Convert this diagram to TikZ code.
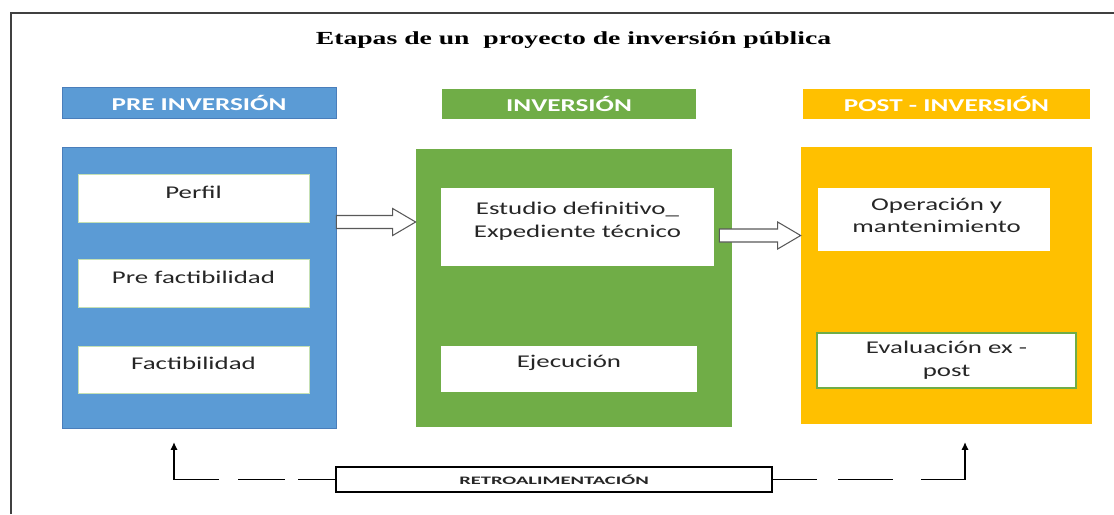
\documentclass[tikz,border=0pt]{standalone}
\usepackage{fontspec}
\usepackage{tikz}
\usetikzlibrary{calc,arrows.meta}
\newfontfamily\lblfont[FakeStretch=1.5]{Carlito}
\newfontfamily\ttlfont[FakeStretch=1.5]{Liberation Serif}
\newfontfamily\retrofont[FakeStretch=1.8]{Carlito}
\definecolor{preblue}{HTML}{5B9BD5}
\definecolor{preedge}{HTML}{4A7EBB}
\definecolor{invgreen}{HTML}{70AD47}
\definecolor{postyellow}{HTML}{FFC000}
\definecolor{cardedge}{HTML}{C5E0B4}
\definecolor{txtgray}{HTML}{262626}
\definecolor{arrgray}{HTML}{595959}
\definecolor{framegray}{HTML}{404040}
\def\blockarrow[#1](#2)(#3){\draw[#1] ($(#2)+(0,-6.5)$) -- ($(#3)+(-23,-6.5)$) -- ($(#3)+(-23,-13.5)$) -- (#3) -- ($(#3)+(-23,13.5)$) -- ($(#3)+(-23,6.5)$) -- ($(#2)+(0,6.5)$) -- cycle;}
\tikzset{
  pxsize/.style 2 args={minimum width=#1*0.02cm, minimum height=#2*0.02cm},
  stagehead/.style={rectangle, inner sep=0pt, text=white, font=\lblfont\bfseries\fontsize{10.3pt}{12pt}\selectfont},
  stagebox/.style={rectangle, inner sep=0pt},
  stepcard/.style={rectangle, fill=white, inner sep=0pt},
  steptext/.style={font=\lblfont\fontsize{10.2pt}{13pt}\selectfont, text=txtgray, align=center},
  barrow/.style={draw=arrgray, fill=white, line width=0.6pt},
  feedline/.style={line width=0.85pt, -{Latex[length=4.5pt,width=4.2pt]}},
  outerframe/.style={draw=framegray, line width=1.1pt}
}
\begin{document}
\begin{tikzpicture}[x=0.02cm,y=-0.02cm]
    \useasboundingbox (0,0) rectangle (1114,514);
    %%%%% FRAME + TITLE %%%%%
    \draw[outerframe] (11,514) -- (11,13) -- (1114,13);
    \node[font=\ttlfont\bfseries\fontsize{10.5pt}{12pt}\selectfont] (title) at (573.5,40) {Etapas de un\ \ proyecto de inversión pública};

    %%%%% HEADERS %%%%%
    \node[stagehead, pxsize={274}{31}, fill=preblue, draw=preedge, line width=0.5pt] (hpre) at (199,102.5) {PRE INVERSIÓN};
    \node[stagehead, pxsize={254}{30}, fill=invgreen] (hinv) at (569,104) {INVERSIÓN};
    \node[stagehead, pxsize={287}{30}, fill=postyellow] (hpost) at (946.5,104) {POST - INVERSIÓN};

    %%%%% STAGES %%%%%
    \node[stagebox, pxsize={274}{281}, fill=preblue, draw=preedge, line width=0.5pt] (pre) at (199,287.5) {};
    \node[stagebox, pxsize={316}{278}, fill=invgreen] (inv) at (574,288) {};
    \node[stagebox, pxsize={291}{277}, fill=postyellow] (post) at (946.5,285.5) {};

    %%%%% STEPS %%%%%
    \node[stepcard, pxsize={231}{48}, draw=cardedge, line width=0.5pt, label={[steptext, yshift=3.4pt]center:Perfil}] (perfil) at (193.5,198) {};
    \node[stepcard, pxsize={231}{48}, draw=cardedge, line width=0.5pt, label={[steptext, yshift=3.4pt]center:Pre factibilidad}] (prefact) at (193.5,283) {};
    \node[stepcard, pxsize={231}{47}, draw=cardedge, line width=0.5pt, label={[steptext, yshift=3.4pt]center:Factibilidad}] (fact) at (193.5,369.5) {};

    \node[stepcard, pxsize={273}{78}, label={[steptext, yshift=3.1pt]center:Estudio definitivo\_\\Expediente técnico}] (estudio) at (577.5,227) {};
    \node[stepcard, pxsize={256}{46}, label={[steptext, yshift=3.4pt]center:Ejecución}] (ejec) at (569,369) {};

    \node[stepcard, pxsize={232}{63}, label={[steptext, yshift=2.3pt, xshift=1.5pt]center:Operación y\\mantenimiento}] (operac) at (934,219.5) {};
    \node[stepcard, pxsize={259}{55}, draw=invgreen, line width=0.6pt, label={[steptext]center:Evaluación ex -\\post}] (evalua) at (946.5,360.5) {};

    %%%%% BLOCK ARROWS %%%%%
    \coordinate (a1s) at ($(pre.east)+(0,-65.5)$);
    \coordinate (a1e) at (inv.west |- a1s);
    \blockarrow[barrow](a1s)(a1e);
    \coordinate (a2s) at ($(inv.east)+(-13,-52.5)$);
    \coordinate (a2e) at (post.west |- a2s);
    \blockarrow[barrow](a2s)(a2e);

    %%%%% FEEDBACK %%%%%
    \node[draw, line width=0.6pt, pxsize={436}{25}, inner sep=0pt, font=\retrofont\bfseries\fontsize{6.5pt}{8pt}\selectfont, text=txtgray] (retro) at (554,479.5) {RETROALIMENTACIÓN};
    \coordinate (fbl) at (174,442);
    \coordinate (fbr) at (965,442);
    \draw[feedline, dash pattern=on 21.5pt off 7.4pt on 26.6pt off 10.8pt on 120pt] (retro.west) -| (fbl);
    \draw[feedline, dash pattern=on 25.5pt off 11.9pt on 31.2pt off 15.9pt on 120pt] (retro.east) -| (fbr);
\end{tikzpicture}
\end{document}
